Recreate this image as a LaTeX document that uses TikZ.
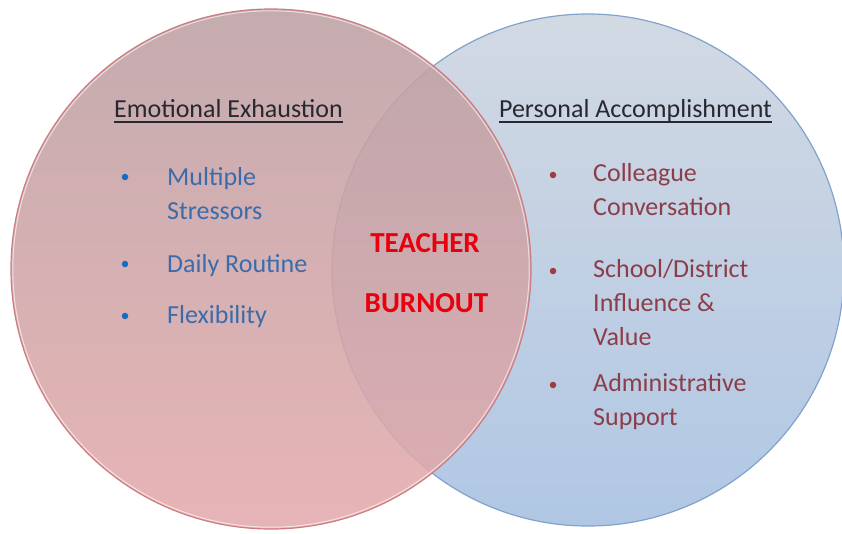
\documentclass[tikz,border=0pt]{standalone}
\usepackage{fontspec}
\setmainfont{Carlito}
\usetikzlibrary{positioning}

\definecolor{exhaustpink}{RGB}{188,160,163}
\definecolor{exhaustpinklow}{RGB}{228,170,172}
\definecolor{exhaustrim}{RGB}{205,125,130}
\definecolor{accompblue}{RGB}{210,217,227}
\definecolor{accompbluelow}{RGB}{176,199,228}
\definecolor{accomprim}{RGB}{128,162,204}
\definecolor{headgray}{RGB}{40,40,48}
\definecolor{itemblue}{RGB}{58,108,172}
\definecolor{dotblue}{RGB}{22,108,190}
\definecolor{itemred}{RGB}{140,62,72}
\definecolor{dotred}{RGB}{158,60,62}
\definecolor{burnred}{RGB}{232,0,12}

\tikzset{
  heading/.style={font=\fontsize{26}{31}\selectfont, text=headgray, inner sep=0pt, anchor=base},
  % base of a multi-line item is its last line
  item/.style={font=\fontsize{26}{34}\selectfont, inner sep=0pt, anchor=base west, align=left},
  bullet/.style={circle, inner sep=0pt, minimum size=6.5pt},
  core/.style={font=\fontsize{29}{34}\selectfont\bfseries, text=burnred, inner sep=0pt, anchor=base}
}

\begin{document}
\begin{tikzpicture}[x=1pt, y=-1pt]
  \useasboundingbox (0,0) rectangle (842,533);

  % the two sets, pink one laid over the blue one
  \shade[top color=accompblue, bottom color=accompbluelow] (588,270) circle (256);
  \draw[accomprim, line width=1.2pt] (588,270) circle (256);
  \shade[top color=exhaustpink, bottom color=exhaustpinklow, fill opacity=0.88] (271,269) circle (260);
  \draw[exhaustrim, line width=1.2pt] (271,269) circle (260);
  \draw[white, line width=1pt, opacity=0.6] (271,269) circle (258.2);

  % headings
  \node[heading] (exhaust) at (228.5,117) {Emotional Exhaustion};
  \node[heading] (accomp) at (635.5,117) {Personal Accomplishment};
  \draw[headgray, line width=1.1pt] ([yshift=-5pt]exhaust.base west) -- ([yshift=-5pt]exhaust.base east);
  \draw[headgray, line width=1.1pt] ([yshift=-5pt]accomp.base west) -- ([yshift=-5pt]accomp.base east);

  % left list
  \node[item, text=itemblue] (stress) at (167,219) {Multiple\\Stressors};
  \node[item, text=itemblue] (routine) at (167,272) {Daily Routine};
  \node[item, text=itemblue] (flex) at (167,323) {Flexibility};
  \node[bullet, fill=dotblue] (d1) at (125,177) {};
  \node[bullet, fill=dotblue] (d2) at (125,264) {};
  \node[bullet, fill=dotblue] (d3) at (125,316) {};

  % right list
  \node[item, text=itemred] (talk) at (593,215) {Colleague\\Conversation};
  \node[item, text=itemred] (value) at (593,345) {School/District\\Influence \&\\Value};
  \node[item, text=itemred] (admin) at (593,425) {Administrative\\Support};
  \node[bullet, fill=dotred] (d4) at (553,175) {};
  \node[bullet, fill=dotred] (d5) at (553,271) {};
  \node[bullet, fill=dotred] (d6) at (553,385) {};

  % overlap
  \node[core] (teacher) at (425,252) {TEACHER};
  \node[core] (burnout) at (426.5,312) {BURNOUT};
\end{tikzpicture}
\end{document}
